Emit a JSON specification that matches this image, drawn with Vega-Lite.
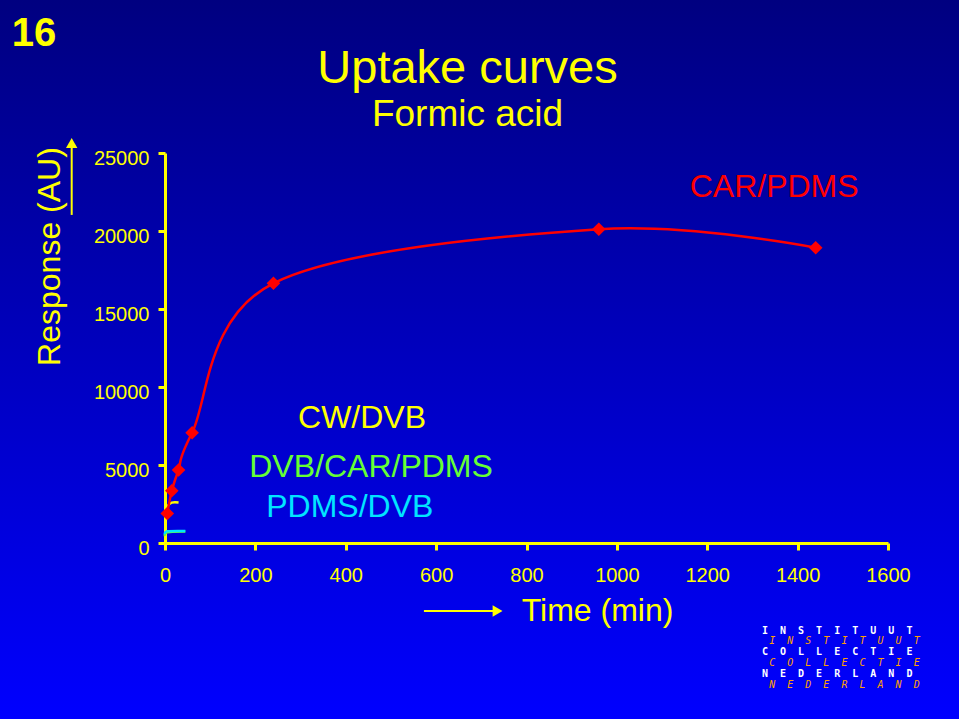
{
  "$schema": "https://vega.github.io/schema/vega-lite/v6.json",
  "width": 959,
  "height": 719,
  "autosize": {"type": "none"},
  "padding": 0,
  "background": "#0000C0",
  "title": {
    "text": "Uptake curves",
    "subtitle": "Formic acid",
    "anchor": "middle",
    "frame": "group",
    "offset": -134,
    "dx": -12,
    "color": "#FFFF00",
    "subtitleColor": "#FFFF00",
    "font": "Liberation Sans",
    "subtitleFont": "Liberation Sans",
    "fontSize": 47,
    "subtitleFontSize": 37,
    "fontWeight": "normal",
    "subtitlePadding": 4
  },
  "config": {
    "view": {
      "stroke": null,
      "fill": {
        "gradient": "linear",
        "x1": 0, "y1": 0, "x2": 0, "y2": 1,
        "stops": [
          {"offset": 0, "color": "#000080"},
          {"offset": 1, "color": "#0000FF"}
        ]
      }
    },
    "axis": {
      "grid": false,
      "labelFlush": false,
      "domainColor": "#FFFF00",
      "domainWidth": 3,
      "tickColor": "#FFFF00",
      "tickWidth": 3,
      "tickSize": 7,
      "labelColor": "#FFFF00",
      "labelFont": "Liberation Sans",
      "labelFontSize": 20,
      "titleColor": "#FFFF00",
      "titleFont": "Liberation Sans",
      "titleFontSize": 32,
      "titleFontWeight": "normal"
    }
  },
  "datasets": {
    "curves": [
      {"series": "DVB/CAR/PDMS", "t": 0, "v": 450},
      {"series": "DVB/CAR/PDMS", "t": 5, "v": 690},
      {"series": "DVB/CAR/PDMS", "t": 45, "v": 730},
      {"series": "PDMS/DVB", "t": 0, "v": 560},
      {"series": "PDMS/DVB", "t": 5, "v": 750},
      {"series": "PDMS/DVB", "t": 45, "v": 770},
      {"series": "CW/DVB", "t": 5, "v": 2350},
      {"series": "CW/DVB", "t": 15, "v": 2590},
      {"series": "CW/DVB", "t": 30, "v": 2600},
      {"series": "CAR/PDMS", "t": 5, "v": 1890},
      {"series": "CAR/PDMS", "t": 15, "v": 3350},
      {"series": "CAR/PDMS", "t": 30, "v": 4680},
      {"series": "CAR/PDMS", "t": 60, "v": 7070},
      {"series": "CAR/PDMS", "t": 240, "v": 16650},
      {"series": "CAR/PDMS", "t": 960, "v": 20110},
      {"series": "CAR/PDMS", "t": 1440, "v": 18930}
    ],
    "labels": [
      {"series": "CAR/PDMS", "t": 1348, "v": 22180},
      {"series": "CW/DVB", "t": 436, "v": 7370},
      {"series": "DVB/CAR/PDMS", "t": 456, "v": 4230},
      {"series": "PDMS/DVB", "t": 409, "v": 1670}
    ],
    "page": [
      {"text": "16", "t": -339, "v": 31860}
    ],
    "arrowLines": [
      {"t": 573, "t2": 736, "v": -4359, "v2": -4359},
      {"t": -206.5, "t2": -206.5, "v": 21030, "v2": 25640}
    ],
    "arrowHeads": [
      {"dir": "x", "t": 736, "v": -4359},
      {"dir": "y", "t": -206.5, "v": 25640}
    ],
    "logoWhite": [
      {"text": "I\u00a0\u00a0N\u00a0\u00a0S\u00a0\u00a0T\u00a0\u00a0I\u00a0\u00a0T\u00a0\u00a0U\u00a0\u00a0U\u00a0\u00a0T", "t": 1321, "v": -5833},
      {"text": "C\u00a0\u00a0O\u00a0\u00a0L\u00a0\u00a0L\u00a0\u00a0E\u00a0\u00a0C\u00a0\u00a0T\u00a0\u00a0I\u00a0\u00a0E", "t": 1321, "v": -7179},
      {"text": "N\u00a0\u00a0E\u00a0\u00a0D\u00a0\u00a0E\u00a0\u00a0R\u00a0\u00a0L\u00a0\u00a0A\u00a0\u00a0N\u00a0\u00a0D", "t": 1321, "v": -8571}
    ],
    "logoOrange": [
      {"text": "I\u00a0\u00a0N\u00a0\u00a0S\u00a0\u00a0T\u00a0\u00a0I\u00a0\u00a0T\u00a0\u00a0U\u00a0\u00a0U\u00a0\u00a0T", "t": 1337, "v": -6494},
      {"text": "C\u00a0\u00a0O\u00a0\u00a0L\u00a0\u00a0L\u00a0\u00a0E\u00a0\u00a0C\u00a0\u00a0T\u00a0\u00a0I\u00a0\u00a0E", "t": 1337, "v": -7865},
      {"text": "N\u00a0\u00a0E\u00a0\u00a0D\u00a0\u00a0E\u00a0\u00a0R\u00a0\u00a0L\u00a0\u00a0A\u00a0\u00a0N\u00a0\u00a0D", "t": 1337, "v": -9276}
    ]
  },
  "layer": [
    {
      "data": {"name": "curves"},
      "mark": {"type": "line", "interpolate": "cardinal", "strokeWidth": 2.5, "clip": false},
      "encoding": {
        "x": {
          "field": "t", "type": "quantitative",
          "scale": {"domain": [0, 1600], "range": [165, 888], "nice": false, "zero": false},
          "axis": {
            "title": "Time (min)",
            "values": [0, 200, 400, 600, 800, 1000, 1200, 1400, 1600],
            "format": "d",
            "offset": -176,
            "labelPadding": 15,
            "titleX": 597,
            "titleY": 77,
            "titleAlign": "center",
            "titleBaseline": "alphabetic"
          }
        },
        "y": {
          "field": "v", "type": "quantitative",
          "scale": {"domain": [0, 25000], "range": [543, 153], "nice": false, "zero": false},
          "axis": {
            "title": "Response (AU)",
            "values": [0, 5000, 10000, 15000, 20000, 25000],
            "format": "d",
            "offset": -165,
            "labelPadding": 9,
            "labelBaseline": "middle",
            "labelOffset": 5,
            "titleAngle": -90,
            "titleX": -106,
            "titleY": 256,
            "titleAlign": "center",
            "titleBaseline": "alphabetic"
          }
        },
        "color": {
          "field": "series", "type": "nominal",
          "scale": {
            "domain": ["CAR/PDMS", "CW/DVB", "DVB/CAR/PDMS", "PDMS/DVB"],
            "range": ["#FF0000", "#FFFF00", "#66FF33", "#00E5FF"]
          },
          "legend": null
        }
      }
    },
    {
      "data": {"name": "curves"},
      "transform": [{"filter": "datum.series === 'CAR/PDMS'"}],
      "mark": {"type": "point", "shape": "diamond", "filled": true, "size": 185, "opacity": 1, "color": "#FF0000", "clip": false},
      "encoding": {
        "x": {"field": "t", "type": "quantitative"},
        "y": {"field": "v", "type": "quantitative"}
      }
    },
    {
      "data": {"name": "labels"},
      "mark": {"type": "text", "font": "Liberation Sans", "fontSize": 32, "align": "center", "baseline": "alphabetic", "clip": false},
      "encoding": {
        "x": {"field": "t", "type": "quantitative"},
        "y": {"field": "v", "type": "quantitative"},
        "text": {"field": "series"},
        "color": {"field": "series", "type": "nominal", "legend": null}
      }
    },
    {
      "data": {"name": "page"},
      "mark": {"type": "text", "font": "Liberation Sans", "fontSize": 40, "fontWeight": "bold", "align": "left", "baseline": "alphabetic", "color": "#FFFF00", "clip": false},
      "encoding": {
        "x": {"field": "t", "type": "quantitative"},
        "y": {"field": "v", "type": "quantitative"},
        "text": {"field": "text"}
      }
    },
    {
      "data": {"name": "arrowLines"},
      "mark": {"type": "rule", "color": "#FFFF00", "strokeWidth": 2, "clip": false},
      "encoding": {
        "x": {"field": "t", "type": "quantitative"},
        "x2": {"field": "t2"},
        "y": {"field": "v", "type": "quantitative"},
        "y2": {"field": "v2"}
      }
    },
    {
      "data": {"name": "arrowHeads"},
      "mark": {"type": "point", "filled": true, "size": 130, "opacity": 1, "color": "#FFFF00", "clip": false},
      "encoding": {
        "x": {"field": "t", "type": "quantitative"},
        "y": {"field": "v", "type": "quantitative"},
        "shape": {
          "field": "dir", "type": "nominal",
          "scale": {"domain": ["x", "y"], "range": ["triangle-right", "triangle-up"]},
          "legend": null
        }
      }
    },
    {
      "data": {"name": "logoWhite"},
      "mark": {"type": "text", "font": "DejaVu Sans Mono", "fontSize": 10, "fontWeight": "bold", "align": "left", "baseline": "alphabetic", "color": "#FFFFFF", "clip": false},
      "encoding": {
        "x": {"field": "t", "type": "quantitative"},
        "y": {"field": "v", "type": "quantitative"},
        "text": {"field": "text"}
      }
    },
    {
      "data": {"name": "logoOrange"},
      "mark": {"type": "text", "font": "DejaVu Sans Mono", "fontSize": 10, "fontStyle": "italic", "align": "left", "baseline": "alphabetic", "color": "#FFA000", "clip": false},
      "encoding": {
        "x": {"field": "t", "type": "quantitative"},
        "y": {"field": "v", "type": "quantitative"},
        "text": {"field": "text"}
      }
    }
  ]
}
